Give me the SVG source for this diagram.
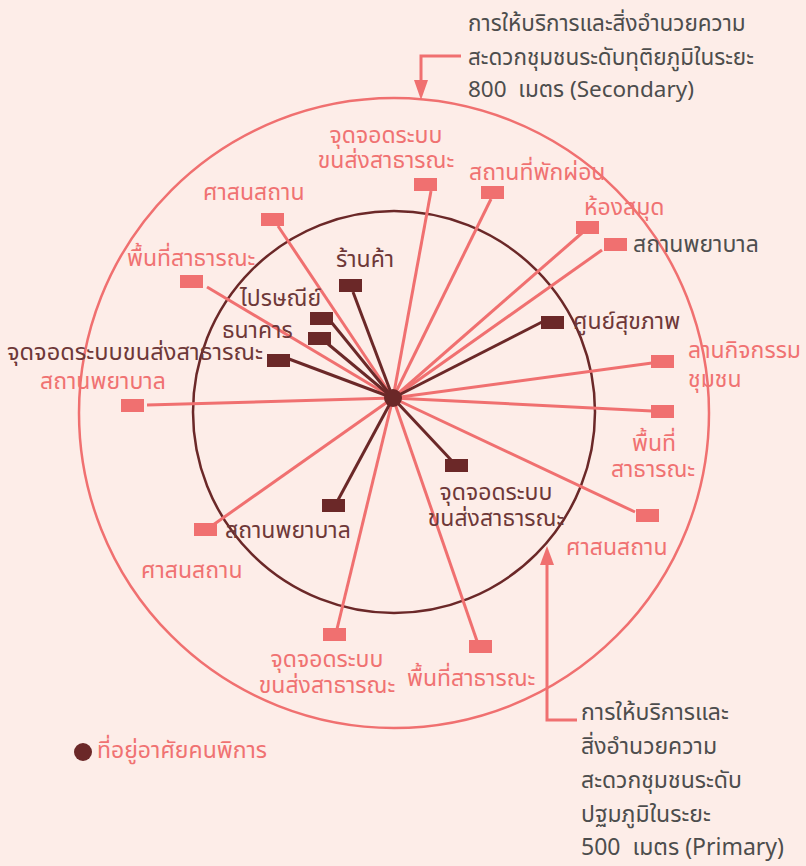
<svg xmlns="http://www.w3.org/2000/svg" width="806" height="866" viewBox="0 0 806 866">
<defs>
<style>
text{font-family:"Noto Sans Thai","Noto Sans","Liberation Sans",sans-serif;font-size:23px;}
.pt{fill:#f07272;}
.dt{fill:#6e3838;}
.gt{fill:#4f4f4f;}
.an{fill:#4d4d4d;font-size:22.5px;}
.an2{fill:#4d4d4d;font-size:23px;}
.pl{stroke:#f07070;stroke-width:3;fill:none;}
.dl{stroke:#6b2828;stroke-width:3;fill:none;}
.pr{fill:#f07070;}
.dr{fill:#6b2828;}
</style>
</defs>
<rect width="806" height="866" fill="#fdede8"/>
<g id="rings">
<circle cx="394" cy="413" r="315" fill="none" stroke="#f07070" stroke-width="2.5"/>
<circle cx="394" cy="412" r="201" fill="none" stroke="#6b2828" stroke-width="2.5"/>
</g>
<g id="connectors">
<line class="pl" x1="393" y1="398" x2="431" y2="191"/>
<line class="pl" x1="393" y1="398" x2="491" y2="199"/>
<line class="pl" x1="393" y1="398" x2="278" y2="226"/>
<line class="pl" x1="393" y1="398" x2="582" y2="233"/>
<line class="pl" x1="393" y1="398" x2="602" y2="250"/>
<line class="pl" x1="393" y1="398" x2="207" y2="287"/>
<line class="pl" x1="393" y1="398" x2="147" y2="405"/>
<line class="pl" x1="393" y1="398" x2="652" y2="363"/>
<line class="pl" x1="393" y1="398" x2="652" y2="411"/>
<line class="pl" x1="393" y1="398" x2="635" y2="512"/>
<line class="pl" x1="393" y1="398" x2="213" y2="525"/>
<line class="pl" x1="393" y1="398" x2="337" y2="629"/>
<line class="pl" x1="393" y1="398" x2="477" y2="641"/>
<line class="dl" x1="393" y1="398" x2="353" y2="292"/>
<line class="dl" x1="393" y1="398" x2="332" y2="323"/>
<line class="dl" x1="393" y1="398" x2="328" y2="344"/>
<line class="dl" x1="393" y1="398" x2="289" y2="359"/>
<line class="dl" x1="393" y1="398" x2="542" y2="322"/>
<line class="dl" x1="393" y1="398" x2="338" y2="500"/>
<line class="dl" x1="393" y1="398" x2="452" y2="461"/>
<polyline class="pl" points="461,56 421,56 421,82"/>
<polygon fill="#f07070" points="414,80 428,80 421,100"/>
<polyline class="pl" points="577,720 547,720 547,562"/>
<polygon fill="#f07070" points="540,565 554,565 547,546"/>
</g>
<g id="hub"><circle cx="393" cy="398" r="9" fill="#6b2828"/></g>
<g id="n-bus-top"><rect class="pr" x="414" y="178" width="23" height="13"/><text class="pt" x="386" y="143" text-anchor="middle">จุดจอดระบบ</text><text class="pt" x="386" y="168" text-anchor="middle">ขนส่งสาธารณะ</text></g>
<g id="n-rest"><rect class="pr" x="481" y="186" width="23" height="13"/><text class="pt" x="469" y="180">สถานที่พักผ่อน</text></g>
<g id="n-temple-tl"><rect class="pr" x="261" y="213" width="23" height="13"/><text class="pt" x="203" y="200">ศาสนสถาน</text></g>
<g id="n-library"><rect class="pr" x="576" y="221" width="23" height="13"/><text class="pt" x="584" y="215">ห้องสมุด</text></g>
<g id="n-hosp-r"><rect class="pr" x="604" y="238" width="23" height="13"/><text class="gt" x="633" y="252">สถานพยาบาล</text></g>
<g id="n-public-l"><rect class="pr" x="180" y="275" width="23" height="13"/><text class="pt" x="127" y="266">พื้นที่สาธารณะ</text></g>
<g id="n-hosp-l"><rect class="pr" x="121" y="399" width="23" height="13"/><text class="pt" x="40" y="389">สถานพยาบาล</text></g>
<g id="n-plaza"><rect class="pr" x="651" y="355" width="23" height="13"/><text class="pt" x="688" y="358">ลานกิจกรรม</text><text class="pt" x="688" y="387">ชุมชน</text></g>
<g id="n-public-r"><rect class="pr" x="651" y="405" width="23" height="13"/><text class="pt" x="654" y="451" text-anchor="middle">พื้นที่</text><text class="pt" x="653" y="477" text-anchor="middle">สาธารณะ</text></g>
<g id="n-temple-r"><rect class="pr" x="636" y="509" width="23" height="13"/><text class="pt" x="566" y="555">ศาสนสถาน</text></g>
<g id="n-temple-l"><rect class="pr" x="194" y="523" width="23" height="13"/><text class="pt" x="141" y="578">ศาสนสถาน</text></g>
<g id="n-bus-bottom"><rect class="pr" x="323" y="628" width="23" height="13"/><text class="pt" x="327" y="667" text-anchor="middle">จุดจอดระบบ</text><text class="pt" x="327" y="693" text-anchor="middle">ขนส่งสาธารณะ</text></g>
<g id="n-public-b"><rect class="pr" x="469" y="640" width="23" height="13"/><text class="pt" x="407" y="686">พื้นที่สาธารณะ</text></g>
<g id="n-shop"><rect class="dr" x="339" y="279" width="23" height="13"/><text class="dt" x="336" y="267">ร้านค้า</text></g>
<g id="n-post"><rect class="dr" x="310" y="312" width="23" height="13"/><text class="dt" x="240" y="306">ไปรษณีย์</text></g>
<g id="n-bank"><rect class="dr" x="308" y="332" width="23" height="13"/><text class="dt" x="222" y="338">ธนาคาร</text></g>
<g id="n-bus-inner-l"><rect class="dr" x="267" y="354" width="23" height="13"/><text class="dt" x="7" y="360" textLength="256" lengthAdjust="spacingAndGlyphs">จุดจอดระบบขนส่งสาธารณะ</text></g>
<g id="n-health"><rect class="dr" x="541" y="316" width="23" height="13"/><text class="dt" x="573" y="329">ศูนย์สุขภาพ</text></g>
<g id="n-hosp-inner"><rect class="dr" x="322" y="499" width="23" height="13"/><text class="dt" x="225" y="538">สถานพยาบาล</text></g>
<g id="n-bus-inner-r"><rect class="dr" x="445" y="459" width="23" height="13"/><text class="dt" x="496" y="500" text-anchor="middle">จุดจอดระบบ</text><text class="dt" x="496" y="526" text-anchor="middle">ขนส่งสาธารณะ</text></g>
<g id="note-secondary">
<text class="an" x="468" y="31">การให้บริการและสิ่งอำนวยความ</text>
<text class="an" x="468" y="65">สะดวกชุมชนระดับทุติยภูมิในระยะ</text>
<text class="an" x="468" y="97" xml:space="preserve">800  เมตร (Secondary)</text>
</g>
<g id="note-primary">
<text class="an2" x="581" y="720">การให้บริการและ</text>
<text class="an2" x="581" y="754">สิ่งอำนวยความ</text>
<text class="an2" x="581" y="788">สะดวกชุมชนระดับ</text>
<text class="an2" x="581" y="822">ปฐมภูมิในระยะ</text>
<text class="an2" x="581" y="855" xml:space="preserve">500  เมตร (Primary)</text>
</g>
<g id="legend">
<circle cx="83" cy="752" r="9" fill="#6b2828"/>
<text class="pt" x="97" y="758">ที่อยู่อาศัยคนพิการ</text>
</g>
</svg>
